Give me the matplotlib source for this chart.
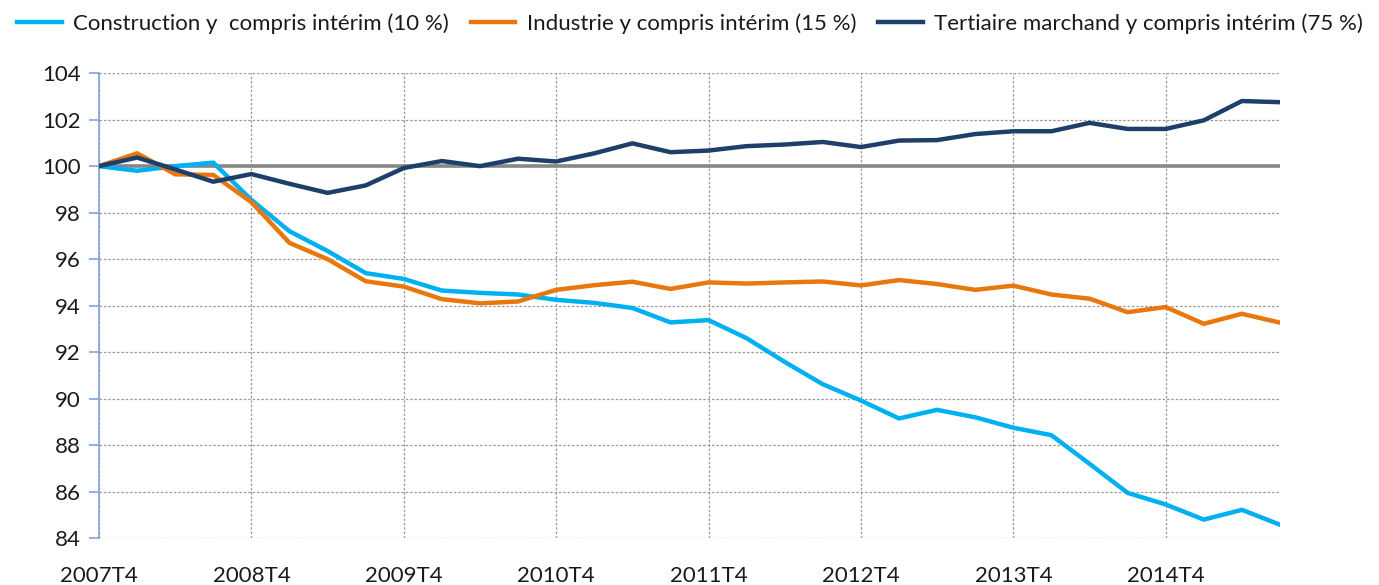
import matplotlib
matplotlib.use("Agg")
import matplotlib.pyplot as plt

quarters = [f"{y}T{q}" for y, q in
            [(2007, 4)] + [(y, q) for y in range(2008, 2016) for q in (1, 2, 3, 4)]][:32]

construction = [100.0, 99.8, 100.0, 100.15, 98.55, 97.2, 96.35, 95.4, 95.15, 94.65,
                94.55, 94.48, 94.25, 94.12, 93.9, 93.28, 93.38, 92.6, 91.58, 90.62,
                89.92, 89.15, 89.52, 89.2, 88.75, 88.43, 87.2, 85.95, 85.45, 84.8,
                85.22, 84.58]
industrie = [100.0, 100.55, 99.65, 99.62, 98.45, 96.7, 96.0, 95.05, 94.82, 94.28,
             94.1, 94.18, 94.68, 94.88, 95.03, 94.72, 95.0, 94.95, 95.0, 95.04,
             94.87, 95.1, 94.93, 94.68, 94.86, 94.48, 94.3, 93.72, 93.94, 93.22,
             93.65, 93.27]
tertiaire = [100.0, 100.37, 99.86, 99.33, 99.66, 99.24, 98.85, 99.17, 99.92, 100.22,
             100.0, 100.32, 100.2, 100.55, 100.98, 100.6, 100.67, 100.86, 100.93, 101.04,
             100.82, 101.1, 101.12, 101.38, 101.5, 101.5, 101.86, 101.6, 101.6, 101.97,
             102.8, 102.75]

labels = ["Construction y  compris intérim (10 %)",
          "Industrie y compris intérim (15 %)",
          "Tertiaire marchand y compris intérim (75 %)"]
colors = ["#00B0F0", "#E8770E", "#1F3F6B"]

plt.rcParams['font.family'] = ['Lato', 'DejaVu Sans']

fig = plt.figure(figsize=(13.79, 5.85), dpi=100)
ax = fig.add_axes([0.0718, 0.080, 0.8564, 0.795])

x = list(range(len(quarters)))
ax.plot(x, [100] * len(x), color="#878787", lw=2.6, zorder=2)
for vals, lab, col in zip([construction, industrie, tertiaire], labels, colors):
    ax.plot(x, vals, color=col, lw=3.2, label=lab, zorder=3,
            solid_joinstyle="miter")

ax.set_xlim(0, len(x) - 1)
ax.set_ylim(84, 104)
ax.set_yticks(range(84, 105, 2))
ax.set_xticks(x[::4])
ax.set_xticklabels(quarters[::4])

ax.grid(True, color="#999999", ls=(0, (2, 1.5)), lw=0.9)
for s in ["top", "right", "bottom"]:
    ax.spines[s].set_visible(False)
ax.spines["left"].set_color("#7EA6D8")
ax.spines["left"].set_linewidth(1.2)
ax.tick_params(axis="y", length=7, color="#7EA6D8", width=1.2,
               labelsize=16, labelcolor="#1a1a1a", pad=6)
ax.tick_params(axis="x", length=0, labelsize=16, labelcolor="#1a1a1a", pad=20)

leg = fig.legend(loc="upper left", bbox_to_anchor=(0.003, 1.0), ncol=3,
                 frameon=False, fontsize=16, handlelength=2.0,
                 handletextpad=0.5, columnspacing=1.0, borderaxespad=0.2)
for t in leg.get_texts():
    t.set_color("#1a1a1a")

fig.savefig("out.png", dpi=100)
